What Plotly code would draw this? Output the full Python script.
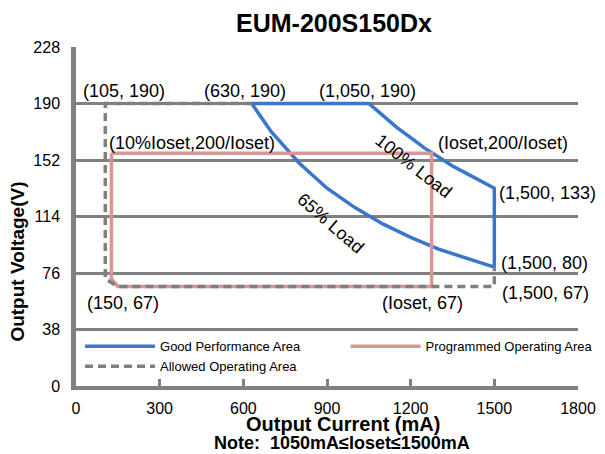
import plotly.graph_objects as go

# Good Performance Area (blue)
full_load_i = [1050, 1100, 1150, 1200, 1250, 1300, 1350, 1400, 1450, 1500]
full_load_v = [190, 182, 174, 167, 160, 154, 148, 143, 138, 133]
low_load_i = [630, 700, 800, 900, 1000, 1100, 1200, 1300, 1400, 1500]
low_load_v = [190, 171, 150, 133, 120, 109, 100, 92, 86, 80]

# Programmed Operating Area (pink), Ioset ~ 1275 mA
prog_i = [127, 127, 150, 1275, 1275, 127]
prog_v = [156.5, 72, 67, 67, 156.5, 156.5]

# Allowed Operating Area (gray dashed)
allow_i = [630, 105, 105, 150, 1500, 1500]
allow_v = [190, 190, 72, 67, 67, 80]

x_ticks = [0, 300, 600, 900, 1200, 1500, 1800]
y_ticks = [0, 38, 76, 114, 152, 190, 228]

BLUE = "#3A76CC"
PINK = "#D99694"
GRAY = "#808080"
FONT = "Liberation Sans, Arial, sans-serif"

good_i = list(reversed(low_load_i)) + full_load_i + [1500]
good_v = list(reversed(low_load_v)) + full_load_v + [80]

fig = go.Figure()
fig.add_trace(go.Scatter(x=good_i, y=good_v, mode="lines", name="Good Performance Area",
                         line=dict(color=BLUE, width=3.5), legend="legend"))
fig.add_trace(go.Scatter(x=prog_i, y=prog_v, mode="lines", name="Programmed Operating Area",
                         line=dict(color=PINK, width=3.5), legend="legend2"))
fig.add_trace(go.Scatter(x=allow_i, y=allow_v, mode="lines", name="Allowed Operating Area",
                         line=dict(color=GRAY, width=3.5, dash="8px,5px"), legend="legend"))

labels = [
    ("(105, 190)", 172, 198.2, 0),
    ("(630, 190)", 606, 198.2, 0),
    ("(1,050, 190)", 1045, 198.2, 0),
    ("(10%Ioset,200/Ioset)", 416, 163.2, 0),
    ("(Ioset,200/Ioset)", 1531, 163.2, 0),
    ("(1,500, 133)", 1692, 129.7, 0),
    ("(1,500, 80)", 1680, 82.6, 0),
    ("(1,500, 67)", 1683, 62.5, 0),
    ("(150, 67)", 167, 55.8, 0),
    ("(Ioset, 67)", 1241, 55.8, 0),
    ("100% Load", 1210, 147.8, 38),
    ("65% Load", 911, 109.5, 41),
]
for txt, x, y, ang in labels:
    fig.add_annotation(x=x, y=y, text=txt, showarrow=False, textangle=ang,
                       xanchor="center", yanchor="middle",
                       font=dict(family=FONT, size=18, color="#000"))

paper_texts = [
    ("<b>Output Current (mA)</b>", 0.531, -0.112, 0, 20),
    ("<b>Output Voltage(V)</b>", -0.1155, 0.367, -90, 19),
    ("<b>Note:  1050mA≤Ioset≤1500mA</b>", 0.530, -0.168, 0, 18),
    ("<b>EUM-200S150Dx</b>", 0.514, 1.071, 0, 25),
]
for txt, x, y, ang, sz in paper_texts:
    fig.add_annotation(xref="paper", yref="paper", x=x, y=y, text=txt, showarrow=False,
                       textangle=ang, xanchor="center", yanchor="middle",
                       font=dict(family=FONT, size=sz, color="#000"))

legend_font = dict(family=FONT, size=13, color="#000")
fig.update_layout(
    width=605, height=454,
    margin=dict(l=68, r=35, t=39, b=76, autoexpand=False),
    paper_bgcolor="white", plot_bgcolor="white",
    font=dict(family=FONT, size=16, color="#000"),
    legend=dict(orientation="v", x=0.008, y=0.161, xanchor="left", yanchor="top",
                itemwidth=70, bgcolor="rgba(0,0,0,0)", font=legend_font, tracegroupgap=0),
    legend2=dict(orientation="v", x=0.537, y=0.161, xanchor="left", yanchor="top",
                 itemwidth=70, bgcolor="rgba(0,0,0,0)", font=legend_font),
    showlegend=True,
)
fig.update_xaxes(range=[0, 1800], tickvals=x_ticks, ticktext=[str(v) for v in x_ticks],
                 showgrid=False, zeroline=False, showline=True, linecolor=GRAY, linewidth=4,
                 ticks="inside", ticklen=7, tickwidth=2.5, tickcolor=GRAY, automargin=False,
                 ticklabelstandoff=5, tickfont=dict(size=16))
fig.update_yaxes(range=[0, 228], tickvals=y_ticks, ticktext=[str(v) for v in y_ticks],
                 showgrid=True, gridcolor=GRAY, gridwidth=2.5, zeroline=False, automargin=False,
                 showline=True, linecolor=GRAY, linewidth=4.5, ticks="",
                 ticklabelstandoff=8, tickfont=dict(size=16))

fig.write_html("out.html")
